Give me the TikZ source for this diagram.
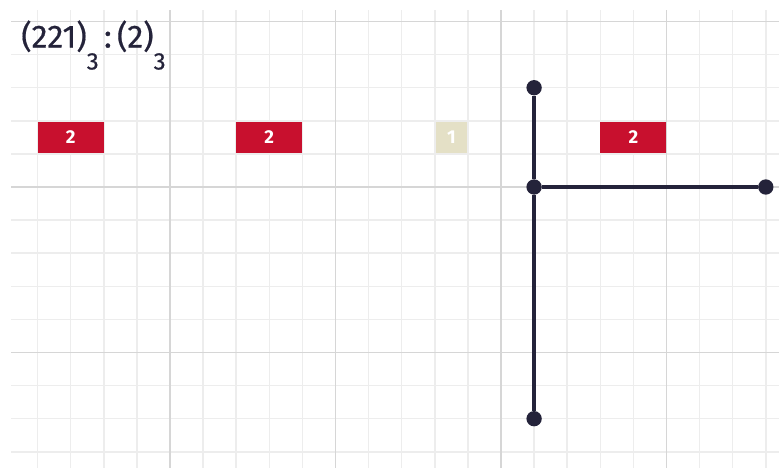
\documentclass[tikz,border=0pt]{standalone}
\usepackage{fontspec}
\setmainfont{Fira Sans}
\newfontfamily\titlefont[FakeBold=0.5]{Fira Sans}
\definecolor{gridminor}{HTML}{EDEDED}
\definecolor{gridmajor}{HTML}{D6D6D6}
\definecolor{boxred}{HTML}{C8102E}
\definecolor{boxbeige}{HTML}{E4E0C6}
\definecolor{ink}{HTML}{24233A}
\newcommand{\lowsub}[1]{\raisebox{-16.5pt}{\fontsize{18}{20}\selectfont #1}}
\tikzset{
  minorline/.style={gridminor, line width=1.1pt},
  majorline/.style={gridmajor, line width=1.4pt},
  redbox/.style={fill=boxred, text=white, inner sep=0pt, minimum width=49.5pt, minimum height=23pt, font=\bfseries\fontsize{14}{16}\selectfont},
  beigebox/.style={fill=boxbeige, text=white, inner sep=0pt, minimum width=23.5pt, minimum height=23pt, font=\bfseries\fontsize{14}{16}\selectfont},
  tdot/.style={circle, fill=ink, inner sep=0pt, minimum size=11.5pt},
  tline/.style={ink, line width=2.6pt}
}
\begin{document}
\begin{tikzpicture}[x=0.75pt,y=-0.75pt]
\useasboundingbox (0,0) rectangle (779,468);
\begin{scope}
  \clip (11,10) rectangle (779,468);
  \foreach \k in {1,...,23} \draw[minorline] ({4.5+33.1*\k},10) -- ({4.5+33.1*\k},468);
  \foreach \j in {0,...,13} \draw[minorline] (11,{21.5+33.1*\j}) -- (779,{21.5+33.1*\j});
  \foreach \k in {5,10,15,20} \draw[majorline] ({4.5+33.1*\k},10) -- ({4.5+33.1*\k},468);
  \foreach \j in {0,5,10} \draw[majorline] (11,{21.5+33.1*\j}) -- (779,{21.5+33.1*\j});
\end{scope}
\node[anchor=base west, inner sep=0pt, text=ink, font=\titlefont\fontsize{24}{28}\selectfont] (title) at (21,47.5) {(221)\lowsub{3}\,:\,(2)\lowsub{3}};
\node[redbox] (b1) at (70.7,137.4) {2};
\node[redbox] (b2) at (269.3,137.4) {2};
\node[beigebox] (b3) at (451.4,137.4) {1};
\node[redbox] (b4) at (633.4,137.4) {2};
\node[tdot] (top) at (534.1,87.7) {};
\node[tdot] (mid) at (534.1,187) {};
\node[tdot] (bot) at (534.1,418.7) {};
\node[tdot] (right) at (765.8,187) {};
\draw[tline] (top) -- (mid);
\draw[tline] (mid) -- (bot);
\draw[tline] (mid) -- (right);
\end{tikzpicture}
\end{document}
